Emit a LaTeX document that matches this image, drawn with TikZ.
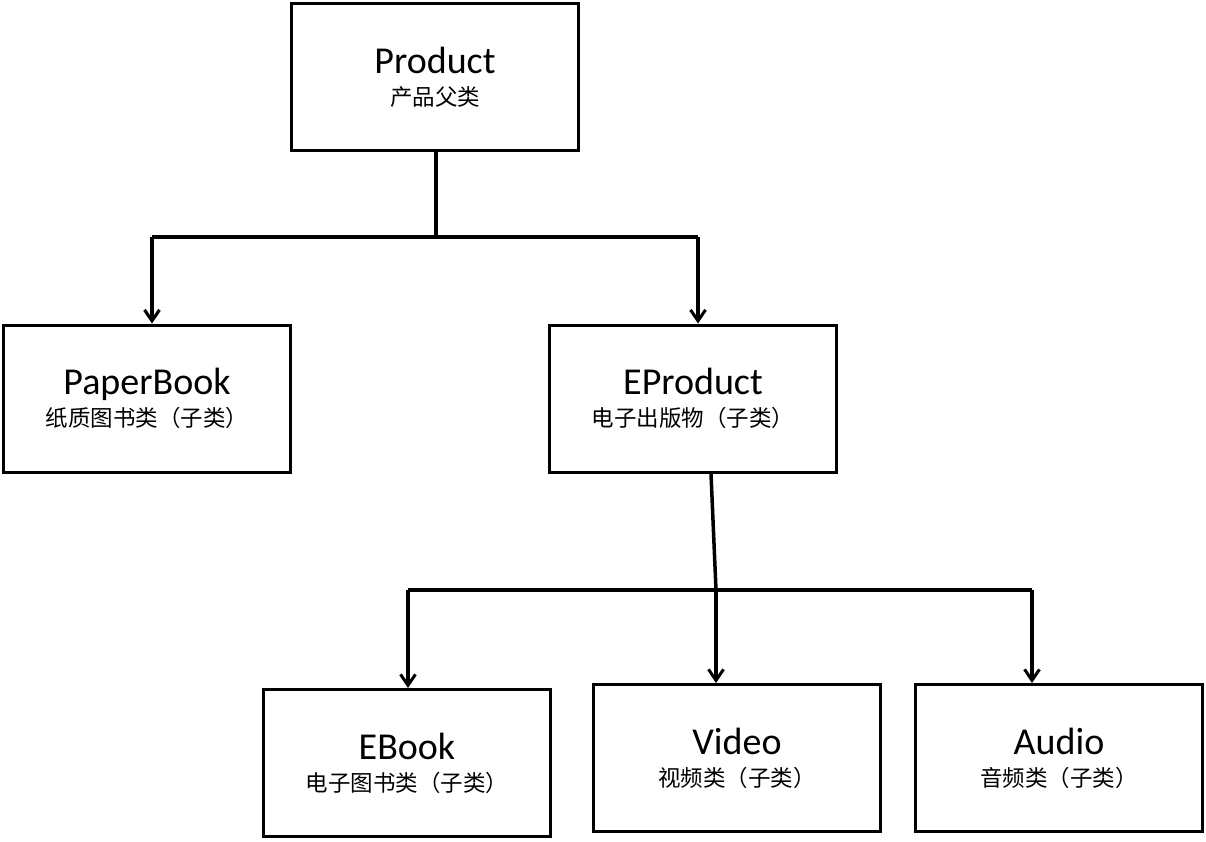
\documentclass[tikz,border=0pt]{standalone}
\usepackage{fontspec}
\setmainfont{Carlito}
\newfontfamily\cjk{Noto Sans CJK SC}
\usetikzlibrary{arrows.meta}

\begin{document}
\begin{tikzpicture}[
  x=1pt,y=-1pt,
  >={Straight Barb[length=11pt,width=15pt,line width=3pt]},
  classbox/.style={draw,line width=3pt,minimum width=287pt,minimum height=147pt,
    align=center,inner sep=0pt,font=\fontsize{38}{40}\selectfont},
  link/.style={line width=3.5pt}
]
  \useasboundingbox (0,0) rectangle (1206,841);
  % classes
  \node[classbox] (product) at (435,77) {Product\\[-8pt]{\cjk\fontsize{22.5}{24}\selectfont 产品父类}};
  \node[classbox] (paperbook) at (147,398.5) {PaperBook\\[-8pt]{\cjk\fontsize{22.5}{24}\selectfont 纸质图书类（子类）}};
  \node[classbox] (eproduct) at (693,398.5) {EProduct\\[-8pt]{\cjk\fontsize{22.5}{24}\selectfont 电子出版物（子类）}};
  \node[classbox] (ebook) at (407,763) {EBook\\[-8pt]{\cjk\fontsize{22.5}{24}\selectfont 电子图书类（子类）}};
  \node[classbox] (video) at (737,758) {Video\\[-8pt]{\cjk\fontsize{22.5}{24}\selectfont 视频类（子类）}};
  \node[classbox] (audio) at (1059,758) {Audio\\[-8pt]{\cjk\fontsize{22.5}{24}\selectfont 音频类（子类）}};
  % first level
  \coordinate (pj) at (436,237);
  \coordinate (pl) at (152,237);
  \coordinate (pr) at (698,237);
  \draw[link] (product.south -| pj) -- (pj);
  \draw[link] (pl) -- (pr);
  \draw[link,->] (pl) -- (pl |- paperbook.north);
  \draw[link,->] (pr) -- (pr |- eproduct.north);
  % second level
  \coordinate (ej) at (716,590);
  \coordinate (el) at (408,590);
  \coordinate (er) at (1032,590);
  \draw[link] (711,474) -- (ej);
  \draw[link] (el) -- (er);
  \draw[link,->] (el) -- (el |- ebook.north);
  \draw[link,->] (ej) -- (ej |- video.north);
  \draw[link,->] (er) -- (er |- audio.north);
\end{tikzpicture}
\end{document}
